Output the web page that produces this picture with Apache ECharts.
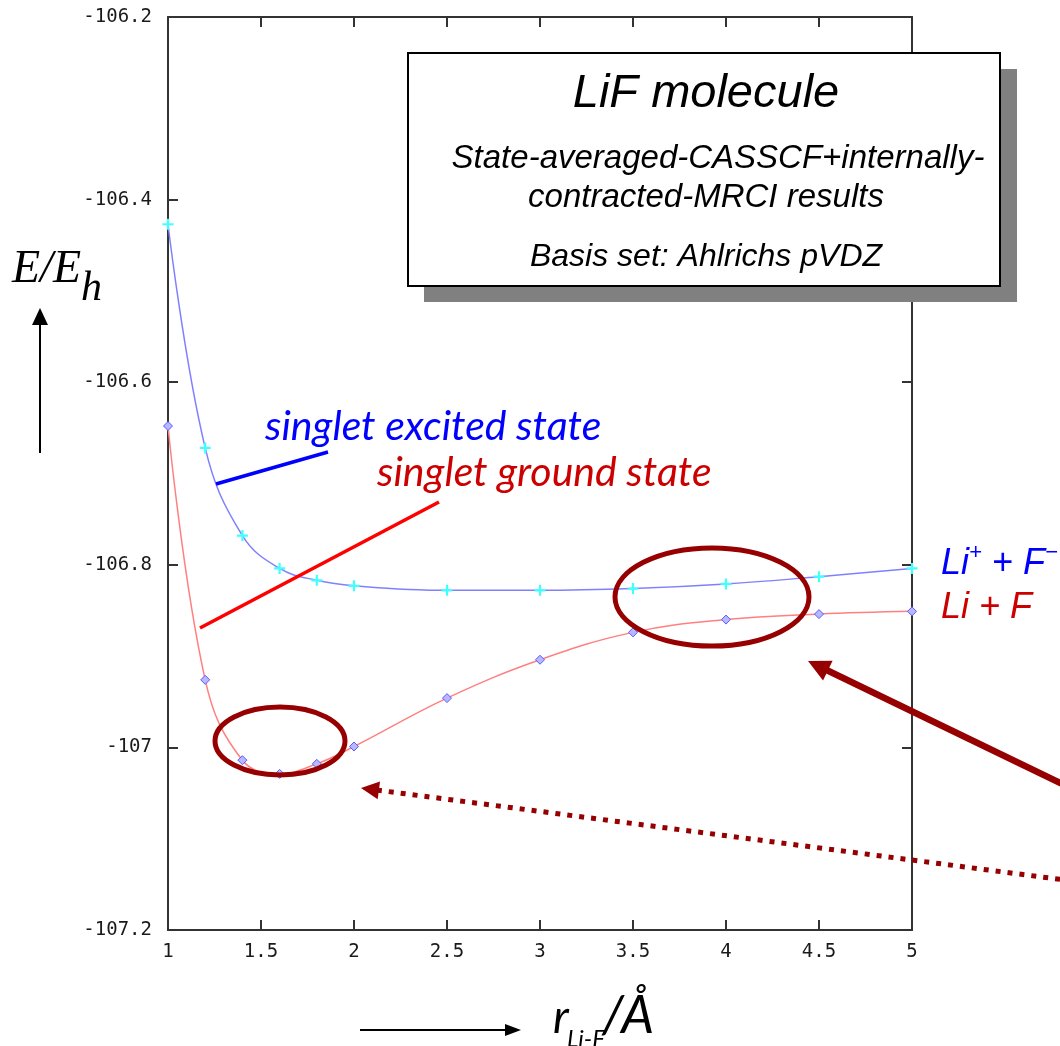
<!DOCTYPE html>
<html>
<head>
<meta charset="utf-8">
<script src="https://cdn.jsdelivr.net/npm/echarts@6/dist/echarts.min.js"></script>
<style>
  html, body { margin: 0; padding: 0; background: #ffffff; }
  #chart { width: 1060px; height: 1046px; }
</style>
</head>
<body>
<div id="chart"></div>
<script>
// ---- data ----
const rValues = [1.0, 1.2, 1.4, 1.6, 1.8, 2.0, 2.5, 3.0, 3.5, 4.0, 4.5, 5.0];
const excitedState = [-106.427, -106.672, -106.768, -106.804, -106.817, -106.823, -106.828, -106.828, -106.826, -106.821, -106.813, -106.804];
const groundState  = [-106.648, -106.926, -107.014, -107.029, -107.018, -106.999, -106.946, -106.904, -106.874, -106.860, -106.854, -106.851];
const xTicks = { min: 1, max: 5, interval: 0.5 };
const yTicks = { min: -107.2, max: -106.2, interval: 0.2 };

const fmt = v => String(Math.round(v * 10) / 10);
const pairs = (xs, ys) => xs.map((x, i) => [x, ys[i]]);

const DARKRED = '#960000';
const AXC = '#333333';

function axisCommon(showLabel, pos) {
  return {
    axisLine: { onZero: false, lineStyle: { color: AXC, width: 2 } },
    axisTick: { show: true, inside: true, length: 10, lineStyle: { color: AXC, width: 2 } },
    axisLabel: {
      show: showLabel, formatter: fmt, color: '#1a1a1a',
      fontFamily: 'DejaVu Sans Mono', fontSize: 19, margin: pos === 'x' ? 13 : 16
    },
    splitLine: { show: false }
  };
}

// arrow helper (annotation geometry only)
function arrow(tip, tail, headLen, headHalf, color, width, dash) {
  const dx = tail[0] - tip[0], dy = tail[1] - tip[1];
  const L = Math.hypot(dx, dy);
  const ux = dx / L, uy = dy / L;
  const bx = tip[0] + ux * headLen, by = tip[1] + uy * headLen;
  const px = -uy, py = ux;
  return [
    { type: 'line', z: 30, shape: { x1: bx - ux * 2, y1: by - uy * 2, x2: tail[0], y2: tail[1] },
      style: { stroke: color, lineWidth: width, lineDash: dash || null } },
    { type: 'polygon', z: 31, shape: { points: [tip, [bx + px * headHalf, by + py * headHalf], [bx - px * headHalf, by - py * headHalf]] },
      style: { fill: color } }
  ];
}

const chart = echarts.init(document.getElementById('chart'), null, { renderer: 'canvas' });

const graphics = [
  // info box with shadow
  { type: 'rect', z: 20, shape: { x: 424, y: 69, width: 593, height: 233 }, style: { fill: '#808080' } },
  { type: 'rect', z: 21, shape: { x: 408, y: 53, width: 592, height: 233 }, style: { fill: '#ffffff', stroke: '#000', lineWidth: 2 } },
  { type: 'text', z: 22, x: 706, y: 94, style: { text: 'LiF molecule', fontFamily: 'Liberation Sans', fontStyle: 'italic', fontSize: 47, fill: '#000', align: 'center', verticalAlign: 'middle' } },
  { type: 'text', z: 22, x: 718, y: 159, style: { text: 'State-averaged-CASSCF+internally-', fontFamily: 'Liberation Sans', fontStyle: 'italic', fontSize: 33, fill: '#000', align: 'center', verticalAlign: 'middle' } },
  { type: 'text', z: 22, x: 706, y: 198, style: { text: 'contracted-MRCI results', fontFamily: 'Liberation Sans', fontStyle: 'italic', fontSize: 33, fill: '#000', align: 'center', verticalAlign: 'middle' } },
  { type: 'text', z: 22, x: 706, y: 257, style: { text: 'Basis set: Ahlrichs pVDZ', fontFamily: 'Liberation Sans', fontStyle: 'italic', fontSize: 32, fill: '#000', align: 'center', verticalAlign: 'middle' } },

  // y axis title
  { type: 'text', z: 22, x: 12, y: 270, style: { text: 'E/E', fontFamily: 'Liberation Serif', fontStyle: 'italic', fontSize: 46, fill: '#000', align: 'left', verticalAlign: 'middle' } },
  { type: 'text', z: 22, x: 81, y: 289, style: { text: 'h', fontFamily: 'Liberation Serif', fontStyle: 'italic', fontSize: 42, fill: '#000', align: 'left', verticalAlign: 'middle' } },
  ...arrow([40, 308], [40, 453], 17, 8, '#000', 2),

  // x axis title
  ...arrow([521, 1030], [360, 1030], 16, 6, '#000', 2),
  { type: 'text', z: 22, x: 553, y: 1018, style: { text: 'r', fontFamily: 'Lato', fontStyle: 'italic', fontSize: 46, fill: '#000', align: 'left', verticalAlign: 'middle' } },
  { type: 'text', z: 22, x: 567, y: 1039, style: { text: 'Li-F', fontFamily: 'Lato', fontStyle: 'italic', fontSize: 24, fill: '#000', align: 'left', verticalAlign: 'middle' } },
  { type: 'text', z: 22, x: 602, y: 1016, style: { text: '/Å', fontFamily: 'Lato', fontStyle: 'italic', fontSize: 52, fill: '#000', align: 'left', verticalAlign: 'middle' } },

  // state labels + callout lines
  { type: 'text', z: 22, x: 265, y: 427, style: { text: 'singlet excited state', fontFamily: 'Lato', fontStyle: 'italic', fontSize: 41, fill: '#0000ff', align: 'left', verticalAlign: 'middle' } },
  { type: 'line', z: 22, shape: { x1: 216, y1: 484, x2: 328, y2: 452 }, style: { stroke: '#0000ff', lineWidth: 3.5 } },
  { type: 'text', z: 22, x: 377, y: 473, style: { text: 'singlet ground state', fontFamily: 'Lato', fontStyle: 'italic', fontSize: 41, fill: '#cc0000', align: 'left', verticalAlign: 'middle' } },
  { type: 'line', z: 22, shape: { x1: 200, y1: 628, x2: 439, y2: 502 }, style: { stroke: '#ff0000', lineWidth: 3.5 } },

  // asymptote labels
  { type: 'text', z: 22, x: 941, y: 562, style: {
      text: '{a|Li}{s|+}{a| + F}{s|−}',
      rich: {
        a: { fontFamily: 'Liberation Sans', fontStyle: 'italic', fontSize: 36, fill: '#0000ff', lineHeight: 40, verticalAlign: 'bottom' },
        s: { fontFamily: 'Liberation Sans', fontStyle: 'italic', fontSize: 22, fill: '#0000ff', lineHeight: 40, verticalAlign: 'top' }
      },
      align: 'left', verticalAlign: 'middle' } },
  { type: 'text', z: 22, x: 941, y: 608, style: { text: 'Li + F', fontFamily: 'Liberation Sans', fontStyle: 'italic', fontSize: 36, fill: '#cc0000', align: 'left', verticalAlign: 'middle' } },

  // highlight ellipses
  { type: 'ellipse', z: 25, shape: { cx: 280, cy: 741, rx: 65, ry: 34 }, style: { fill: null, stroke: DARKRED, lineWidth: 5 } },
  { type: 'ellipse', z: 25, shape: { cx: 712, cy: 597, rx: 97, ry: 49 }, style: { fill: null, stroke: DARKRED, lineWidth: 5 } },

  // arrows
  ...arrow([808, 661], [1110, 807], 22, 11, DARKRED, 6.5),
  ...arrow([361, 788], [1080, 882], 18, 9, DARKRED, 5, [5, 7])
];

chart.setOption({
  animation: false,
  backgroundColor: '#ffffff',
  grid: { left: 168, right: 148, top: 17, bottom: 116 },
  xAxis: [
    Object.assign({ type: 'value', position: 'bottom' }, xTicks, axisCommon(true, 'x')),
    Object.assign({ type: 'value', position: 'top' }, xTicks, axisCommon(false, 'x'))
  ],
  yAxis: [
    Object.assign({ type: 'value', position: 'left' }, yTicks, axisCommon(true, 'y')),
    Object.assign({ type: 'value', position: 'right' }, yTicks, axisCommon(false, 'y'))
  ],
  series: [
    {
      name: 'singlet excited state', type: 'line', xAxisIndex: 0, yAxisIndex: 0,
      data: pairs(rValues, excitedState), smooth: 0.4, z: 3,
      lineStyle: { color: '#8080ff', width: 1.5 },
      symbol: 'path://M4,0H6V4H10V6H6V10H4V6H0V4H4Z', symbolSize: 11,
      itemStyle: { color: '#40ffff' }
    },
    {
      name: 'singlet ground state', type: 'line', xAxisIndex: 0, yAxisIndex: 0,
      data: pairs(rValues, groundState), smooth: 0.4, z: 3,
      lineStyle: { color: '#ff8080', width: 1.5 },
      symbol: 'diamond', symbolSize: 9,
      itemStyle: { color: '#b8b8ff', borderColor: '#5a5aff', borderWidth: 1 }
    }
  ],
  graphic: { elements: graphics }
});
</script>
</body>
</html>
